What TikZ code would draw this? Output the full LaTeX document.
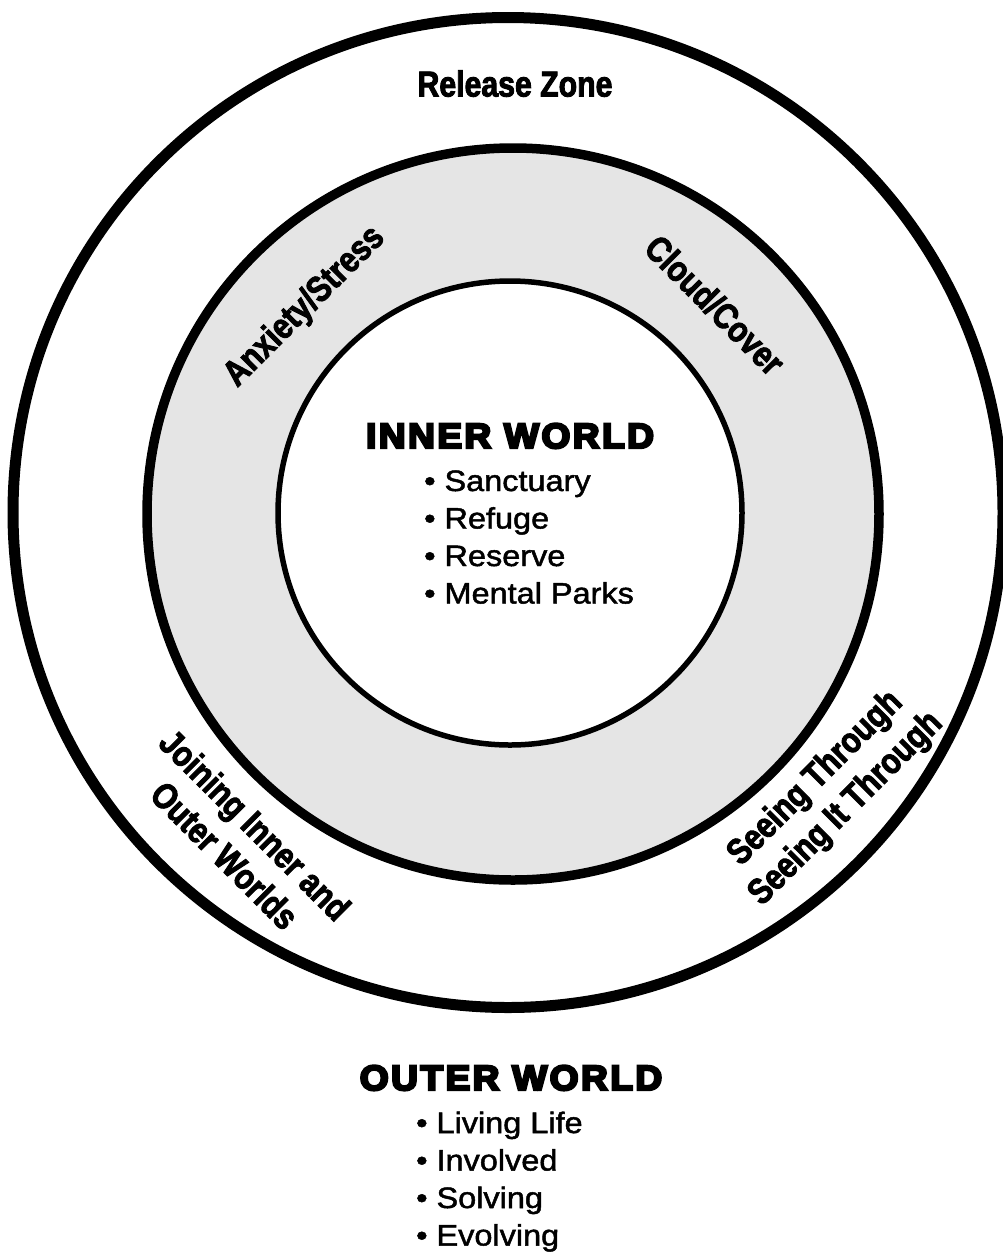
\documentclass[tikz,border=0pt]{standalone}
\usepackage{fontspec}
\setmainfont{Liberation Sans}
\newfontfamily\condfont{Liberation Sans}[FakeStretch=0.84, FakeBold=2.5]
\newfontfamily\heavyfont{Liberation Sans}[FakeStretch=1.06, FakeBold=7, LetterSpace=7]
\newfontfamily\listfont{Liberation Sans}[FakeStretch=1.1, FakeBold=1.6]
\definecolor{ringgray}{RGB}{229,229,229}
\tikzset{
  ringlabel/.style={inner sep=0pt, align=center, font=\condfont\bfseries\fontsize{36}{43}\selectfont},
  heading/.style={inner sep=0pt, anchor=base, font=\heavyfont\bfseries\fontsize{35}{40}\selectfont},
  listitem/.style={inner sep=0pt, anchor=base west, font=\listfont\fontsize{29.5}{37}\selectfont},
}
\begin{document}
\begin{tikzpicture}[x=1pt, y=-1pt]
\useasboundingbox (0,0) rectangle (1003,1254);
\fill[white] (0,0) rectangle (1003,1254);
\coordinate (co) at (508,512.5);
\coordinate (cm) at (513,514);
\coordinate (ci) at (510,513);
% circles
\draw[line width=11pt, fill=white] (co) circle[radius=495];
\draw[line width=9.5pt, fill=ringgray] (cm) circle[radius=366];
\draw[line width=5.5pt, fill=white] (ci) circle[radius=232];
% zone labels
\node[ringlabel, anchor=base] (release) at (515,96.5) {Release Zone};
\node[ringlabel, rotate=45] (anxiety) at (305,307) {Anxiety/Stress};
\node[ringlabel, rotate=-45] (cloud) at (715,305) {Cloud/Cover};
\node[ringlabel, rotate=-45] (joining) at (240,840) {Joining Inner and\\Outer Worlds};
\node[ringlabel, rotate=45] (seeing) at (831,794) {Seeing Through\\Seeing It Through};
% inner world
\node[heading] (innerhead) at (510,448) {INNER WORLD};
\node[listitem] (i1) at (424,491) {• Sanctuary};
\node[listitem] (i2) at (424,528.5) {• Refuge};
\node[listitem] (i3) at (424,566) {• Reserve};
\node[listitem] (i4) at (424,603.5) {• Mental Parks};
% outer world
\node[heading] (outerhead) at (511,1090) {OUTER WORLD};
\node[listitem] (o1) at (416,1133) {• Living Life};
\node[listitem] (o2) at (416,1170.5) {• Involved};
\node[listitem] (o3) at (416,1208) {• Solving};
\node[listitem] (o4) at (416,1245.5) {• Evolving};
\end{tikzpicture}
\end{document}
